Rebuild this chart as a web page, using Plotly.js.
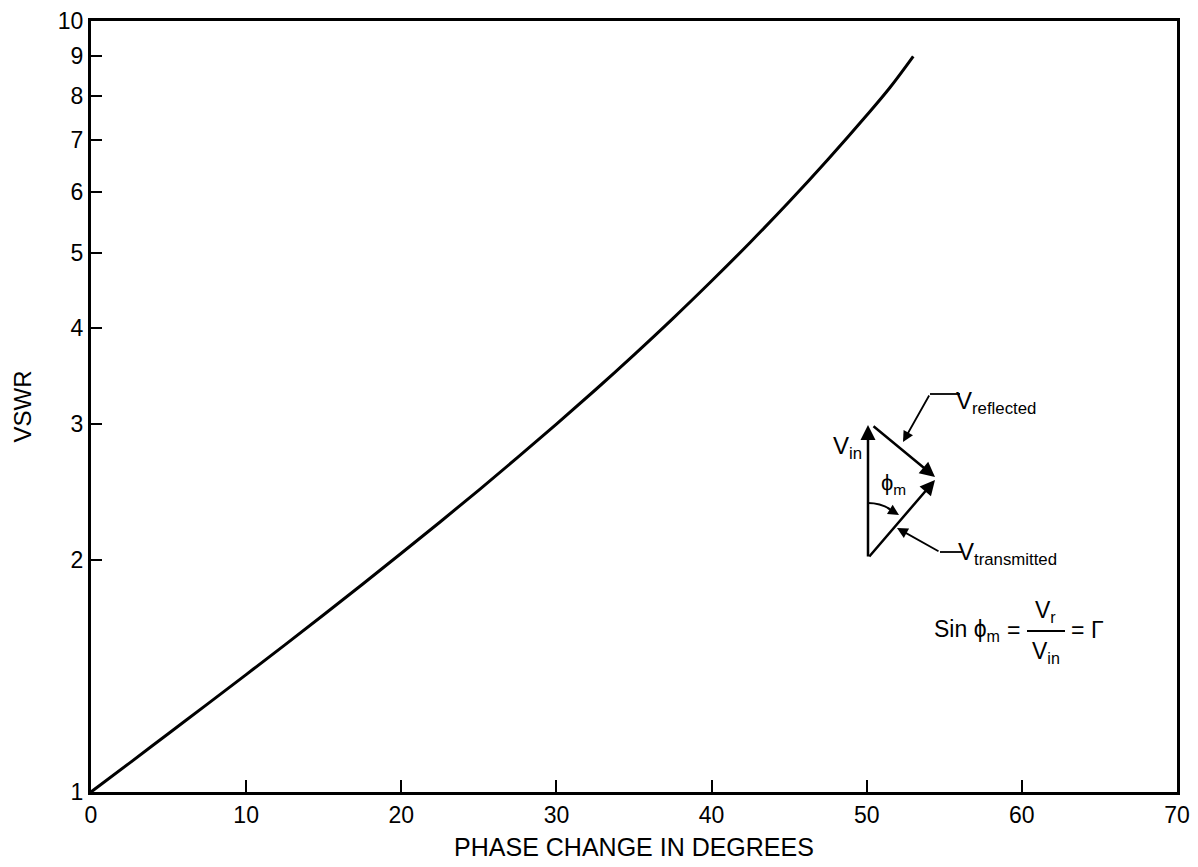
<!DOCTYPE html>
<html>
<head>
<meta charset="utf-8">
<script src="https://cdn.plot.ly/plotly-3.0.1.min.js"></script>
<style>html,body{margin:0;padding:0;background:#fff;}#chart{width:1198px;height:867px;}</style>
</head>
<body>
<div id="chart"></div>
<script>
// Data
const phaseDeg = [0, 2.5, 5, 7.5, 10, 12.5, 15, 17.5, 20, 22.5, 25, 27.5, 30, 32.5, 35, 37.5, 40, 42.5, 45, 47.5, 50, 51.5, 53];
const vswr = [1.00, 1.091, 1.191, 1.300, 1.420, 1.552, 1.698, 1.860, 2.040, 2.240, 2.464, 2.716, 3.00, 3.322, 3.690, 4.112, 4.600, 5.165, 5.828, 6.613, 7.547, 8.20, 9.00];
const xTicks = [0, 10, 20, 30, 40, 50, 60, 70];
const yTicks = [1, 2, 3, 4, 5, 6, 7, 8, 9, 10];
const yTickText = ['1', '2', '3', '4', '5', '6', '7', '8', '9', '10'];

const FONT = 'Liberation Sans, Arial, Helvetica, sans-serif';
// plot area pixel frame
const L = 91, R = 1177, T = 21, B = 792;
const px = x => (x - L) / (R - L);
const py = y => (B - y) / (B - T);

const trace = {
  x: phaseDeg, y: vswr, type: 'scatter', mode: 'lines',
  line: {color: '#000', width: 3, shape: 'spline', smoothing: 1},
  hoverinfo: 'skip', showlegend: false
};

const arrowCommon = {xref: 'paper', yref: 'paper', axref: 'pixel', ayref: 'pixel', text: '',
  showarrow: true, arrowhead: 2, arrowsize: 1.2, arrowwidth: 2.5, arrowcolor: '#000'};
const leaderCommon = {xref: 'paper', yref: 'paper', axref: 'pixel', ayref: 'pixel', text: '',
  showarrow: true, arrowhead: 2, arrowsize: 1.2, arrowwidth: 1.8, arrowcolor: '#000'};
function arrow(common, tx, ty, fx, fy) {
  return Object.assign({}, common, {x: px(tx), y: py(ty), ax: fx - tx, ay: fy - ty});
}
function label(text, x, y, size, xanchor) {
  return {xref: 'paper', yref: 'paper', x: px(x), y: py(y), text: text, showarrow: false,
    xanchor: xanchor || 'left', yanchor: 'middle', font: {family: FONT, size: size, color: '#000'}};
}
function seg(x0, y0, x1, y1, w) {
  return {type: 'line', xref: 'paper', yref: 'paper', x0: px(x0), y0: py(y0), x1: px(x1), y1: py(y1),
    line: {color: '#000', width: w || 2}};
}

const annotations = [
  arrow(arrowCommon, 868, 425, 868, 558),   // V_in
  arrow(arrowCommon, 935, 477, 872, 425),   // V_reflected
  arrow(arrowCommon, 935, 480, 868, 558),   // V_transmitted
  arrow(leaderCommon, 903, 442, 930, 394),  // reflected leader
  arrow(leaderCommon, 897, 528, 940, 552),  // transmitted leader
  arrow(leaderCommon, 899, 515, 886, 507),  // angle arc head
  label('V<sub>in</sub>', 847, 447, 24, 'center'),
  label('ϕ<sub>m</sub>', 893, 484, 22, 'center'),
  label('V<sub>reflected</sub>', 954, 402, 24),
  label('V<sub>transmitted</sub>', 956, 553, 24),
  label('Sin ϕ<sub>m</sub>', 932, 630, 23),
  label('=', 1013, 630, 23, 'center'),
  label('V<sub>r</sub>', 1045, 611, 23, 'center'),
  label('V<sub>in</sub>', 1046, 652, 23, 'center'),
  label('=', 1077, 630, 23, 'center'),
  label('Γ', 1097, 630, 23, 'center')
];

const shapes = [
  seg(960, 394, 930, 394, 1.8),
  seg(962, 552, 940, 552, 1.8),
  {type: 'path', xref: 'paper', yref: 'paper',
   path: `M ${px(868)},${py(503)} Q ${px(880)},${py(503)} ${px(890)},${py(509)}`,
   line: {color: '#000', width: 2}},
  seg(1027, 631, 1065, 631, 2)
];

const layout = {
  width: 1198, height: 867,
  margin: {l: L, r: 1198 - R, t: T, b: 867 - B, pad: 0},
  paper_bgcolor: '#fff', plot_bgcolor: '#fff',
  font: {family: FONT, size: 23, color: '#000'},
  showlegend: false,
  xaxis: {
    range: [0, 70], tickvals: xTicks, ticks: 'inside', ticklen: 12, tickwidth: 2, tickcolor: '#000',
    showline: true, linecolor: '#000', linewidth: 3, mirror: true, showgrid: false, zeroline: false,
    tickfont: {family: FONT, size: 23, color: '#000'},
    title: {text: 'PHASE CHANGE IN DEGREES', font: {family: FONT, size: 25, color: '#000'}, standoff: 12}
  },
  yaxis: {
    type: 'log', range: [0, 1], tickvals: yTicks, ticktext: yTickText,
    ticks: 'inside', ticklen: 11, tickwidth: 2, tickcolor: '#000',
    showline: true, linecolor: '#000', linewidth: 3, mirror: true, showgrid: false, zeroline: false,
    tickfont: {family: FONT, size: 23, color: '#000'},
    title: {text: 'VSWR', font: {family: FONT, size: 24, color: '#000'}, standoff: 20}
  },
  annotations: annotations,
  shapes: shapes
};

Plotly.newPlot('chart', [trace], layout, {displayModeBar: false, staticPlot: true});
</script>
</body>
</html>
